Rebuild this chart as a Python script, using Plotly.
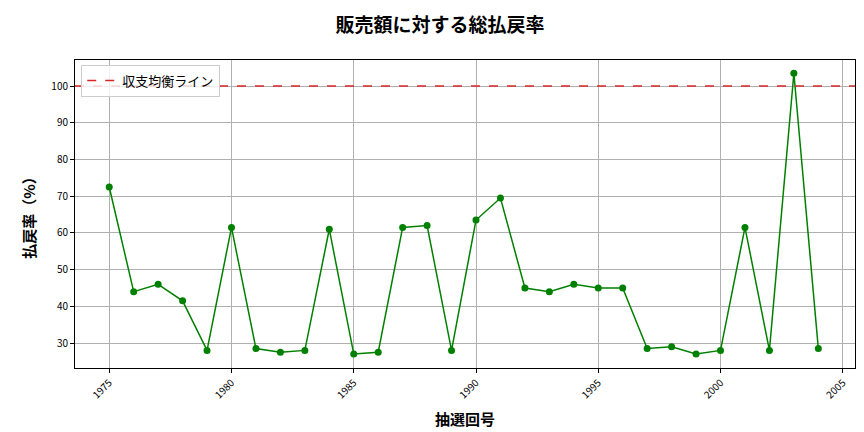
import plotly.graph_objects as go

years = list(range(1975, 2005))
payout = [72.5, 44, 46, 41.5, 28, 61.5, 28.5, 27.5, 28, 61,
          27, 27.5, 61.5, 62, 28, 63.5, 69.5, 45, 44, 46,
          45, 45, 28.5, 29, 27, 28, 61.5, 28, 103.5, 28.5]
breakeven = 100

font = "Noto Sans CJK JP"

fig = go.Figure()
fig.add_trace(go.Scatter(
    x=years, y=payout, mode="lines+markers",
    line=dict(color="green", width=1.5),
    marker=dict(color="green", size=7),
    showlegend=False,
))
fig.add_trace(go.Scatter(
    x=[1973.6, 2005.5], y=[breakeven, breakeven], mode="lines",
    line=dict(color="#d62728", width=1.5, dash="dash"),
    name="収支均衡ライン",
))

axis_common = dict(
    showgrid=True, gridcolor="#b0b0b0", gridwidth=0.8,
    showline=True, linecolor="black", mirror=True,
    ticks="outside", ticklen=4, tickcolor="black",
    zeroline=False, tickfont=dict(size=10, color="black"),
    automargin=False,
)
fig.update_layout(
    width=864, height=432,
    margin=dict(l=67, r=17, t=52, b=72),
    paper_bgcolor="white", plot_bgcolor="white",
    font=dict(family=font, color="black"),
    title=dict(text="<b>販売額に対する総払戻率</b>", x=0.5, xanchor="center",
               y=0.975, yanchor="top", font=dict(size=19)),
    xaxis=dict(axis_common, range=[1973.6, 2005.5], dtick=5, tickangle=-45,
               title=dict(text="<b>抽選回号</b>", font=dict(size=15), standoff=14)),
    yaxis=dict(axis_common, range=[23.2, 107.1], dtick=10,
               title=dict(text="<b>払戻率（%）</b>", font=dict(size=15), standoff=12)),
    legend=dict(x=0.008, y=0.985, xanchor="left", yanchor="top",
                bordercolor="#cccccc", borderwidth=1,
                bgcolor="rgba(255,255,255,0.8)", font=dict(size=13)),
)

fig.write_html("out.html")
